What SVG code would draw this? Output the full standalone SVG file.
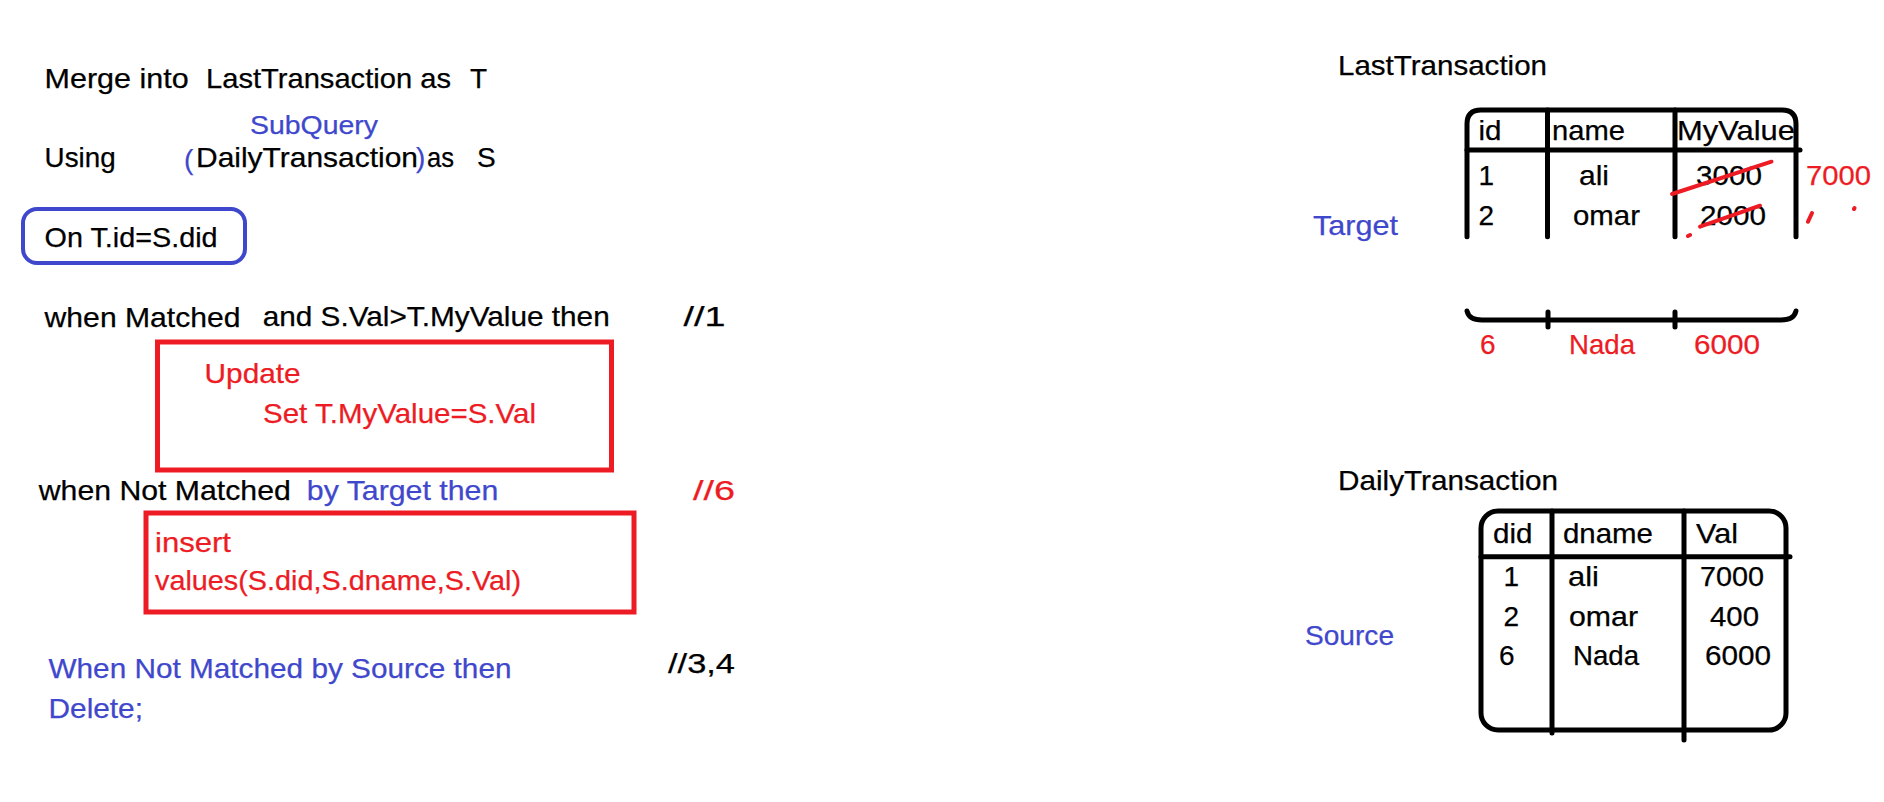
<svg xmlns="http://www.w3.org/2000/svg" width="1884" height="802" viewBox="0 0 1884 802">
<style>
text{font-family:"Liberation Sans",Arial,sans-serif;font-size:28px;stroke-width:0.25}
.k{fill:#000;stroke:#000}
.b{fill:#3f48cc;stroke:#3f48cc}
.r{fill:#ed1c24;stroke:#ed1c24}
.line{fill:none;stroke:#000;stroke-width:5;stroke-linecap:round;stroke-linejoin:round}
.rbox{fill:none;stroke:#ed1c24;stroke-width:5}
.strike{fill:none;stroke:#ed1c24;stroke-width:4;stroke-linecap:round}
</style>
<rect width="1884" height="802" fill="#fff"/>

<g id="query">
<text class="k" x="44.6" y="88" textLength="144" lengthAdjust="spacingAndGlyphs">Merge into</text>
<text class="k" x="206" y="88" textLength="245" lengthAdjust="spacingAndGlyphs">LastTransaction as</text>
<text class="k" x="470" y="88">T</text>
<text class="b" x="250" y="134" style="font-size:25px" textLength="128" lengthAdjust="spacingAndGlyphs">SubQuery</text>
<text class="k" x="44.6" y="167" textLength="71" lengthAdjust="spacingAndGlyphs">Using</text>
<text class="b" x="184" y="169">(</text>
<text class="k" x="196" y="167" textLength="222" lengthAdjust="spacingAndGlyphs">DailyTransaction</text>
<text class="b" x="416" y="167">)</text>
<text class="k" x="427" y="167" textLength="27" lengthAdjust="spacingAndGlyphs">as</text>
<text class="k" x="477" y="167">S</text>
</g>

<g id="on-clause">
<rect x="23" y="209" width="222" height="54" rx="14" fill="none" stroke="#3f48cc" stroke-width="4"/>
<text class="k" x="44.6" y="247" textLength="173" lengthAdjust="spacingAndGlyphs">On T.id=S.did</text>
</g>

<g id="matched">
<text class="k" x="44.6" y="327" textLength="196" lengthAdjust="spacingAndGlyphs">when Matched</text>
<text class="k" x="262.7" y="326" textLength="347" lengthAdjust="spacingAndGlyphs">and S.Val&gt;T.MyValue then</text>
<text class="k" x="683.5" y="326" textLength="42" lengthAdjust="spacingAndGlyphs">//1</text>
</g>

<g id="update-box">
<rect class="rbox" x="157.5" y="342" width="454" height="128"/>
<text class="r" x="204.6" y="383" textLength="96" lengthAdjust="spacingAndGlyphs">Update</text>
<text class="r" x="263" y="423" textLength="273" lengthAdjust="spacingAndGlyphs">Set T.MyValue=S.Val</text>
</g>

<g id="not-matched-target">
<text class="k" x="38.8" y="500" textLength="252" lengthAdjust="spacingAndGlyphs">when Not Matched</text>
<text class="b" x="306.8" y="500" textLength="191.5" lengthAdjust="spacingAndGlyphs">by Target then</text>
<text class="r" x="693" y="500" textLength="42" lengthAdjust="spacingAndGlyphs">//6</text>
</g>

<g id="insert-box">
<rect class="rbox" x="146" y="513" width="488" height="99"/>
<text class="r" x="155" y="551.5" textLength="76" lengthAdjust="spacingAndGlyphs">insert</text>
<text class="r" x="155" y="590" textLength="366" lengthAdjust="spacingAndGlyphs">values(S.did,S.dname,S.Val)</text>
</g>

<g id="not-matched-source">
<text class="b" x="48.5" y="678" textLength="463" lengthAdjust="spacingAndGlyphs">When Not Matched by Source then</text>
<text class="b" x="48.5" y="718" textLength="94.5" lengthAdjust="spacingAndGlyphs">Delete;</text>
<text class="k" x="668" y="673" textLength="67" lengthAdjust="spacingAndGlyphs">//3,4</text>
</g>

<g id="last-transaction">
<text class="k" x="1338" y="75" textLength="209" lengthAdjust="spacingAndGlyphs">LastTransaction</text>
<text class="b" x="1313" y="235" textLength="85" lengthAdjust="spacingAndGlyphs">Target</text>
<path class="line" d="M1467 236.7 V124 Q1467 110 1481 110 H1782 Q1796 110 1796 124 V236.7"/>
<path class="line" d="M1467 150 H1800"/>
<path class="line" d="M1547.5 110 V236.7 M1675 110 V236.7"/>
<path class="line" d="M1467 311 Q1469 320 1482 320 H1781 Q1794 320 1796 311"/>
<path class="line" d="M1548 312 V327 M1675 312 V327"/>
<text class="k" x="1478.5" y="140" textLength="23" lengthAdjust="spacingAndGlyphs">id</text>
<text class="k" x="1552" y="140" textLength="73" lengthAdjust="spacingAndGlyphs">name</text>
<text class="k" x="1677" y="140" textLength="118" lengthAdjust="spacingAndGlyphs">MyValue</text>
<text class="k" x="1478.5" y="185">1</text>
<text class="k" x="1579" y="185" textLength="30" lengthAdjust="spacingAndGlyphs">ali</text>
<text class="k" x="1696" y="185" textLength="66" lengthAdjust="spacingAndGlyphs">3000</text>
<text class="r" x="1806" y="185" textLength="65" lengthAdjust="spacingAndGlyphs">7000</text>
<text class="k" x="1478.5" y="224.5">2</text>
<text class="k" x="1573" y="224.5" textLength="67" lengthAdjust="spacingAndGlyphs">omar</text>
<text class="k" x="1700" y="224.5" textLength="66" lengthAdjust="spacingAndGlyphs">2000</text>
<path class="strike" d="M1672 194 L1771.5 161.7"/>
<path class="strike" d="M1700 226.7 L1760 205.7"/>
<path class="strike" d="M1688 236 L1690 235 M1808 221.7 L1812 213 M1854 209 L1854.5 208"/>
<text class="r" x="1480" y="353.5">6</text>
<text class="r" x="1569" y="353.5" textLength="66" lengthAdjust="spacingAndGlyphs">Nada</text>
<text class="r" x="1694" y="353.5" textLength="66" lengthAdjust="spacingAndGlyphs">6000</text>
</g>

<g id="daily-transaction">
<text class="k" x="1338" y="490" textLength="220" lengthAdjust="spacingAndGlyphs">DailyTransaction</text>
<text class="b" x="1305" y="645" textLength="89" lengthAdjust="spacingAndGlyphs">Source</text>
<rect class="line" x="1481" y="511" width="305" height="219" rx="17"/>
<path class="line" d="M1481 556.7 H1790"/>
<path class="line" d="M1552 511 V733 M1684 511 V740"/>
<text class="k" x="1493" y="543.3" textLength="39.5" lengthAdjust="spacingAndGlyphs">did</text>
<text class="k" x="1563" y="543.3" textLength="90" lengthAdjust="spacingAndGlyphs">dname</text>
<text class="k" x="1696" y="543.3" textLength="42" lengthAdjust="spacingAndGlyphs">Val</text>
<text class="k" x="1503.6" y="586">1</text>
<text class="k" x="1568" y="586" textLength="31" lengthAdjust="spacingAndGlyphs">ali</text>
<text class="k" x="1700" y="586" textLength="64" lengthAdjust="spacingAndGlyphs">7000</text>
<text class="k" x="1503.6" y="625.7">2</text>
<text class="k" x="1569" y="625.7" textLength="69" lengthAdjust="spacingAndGlyphs">omar</text>
<text class="k" x="1710" y="625.7" textLength="49" lengthAdjust="spacingAndGlyphs">400</text>
<text class="k" x="1499" y="665">6</text>
<text class="k" x="1573" y="665" textLength="66" lengthAdjust="spacingAndGlyphs">Nada</text>
<text class="k" x="1705" y="665" textLength="66" lengthAdjust="spacingAndGlyphs">6000</text>
</g>
</svg>
